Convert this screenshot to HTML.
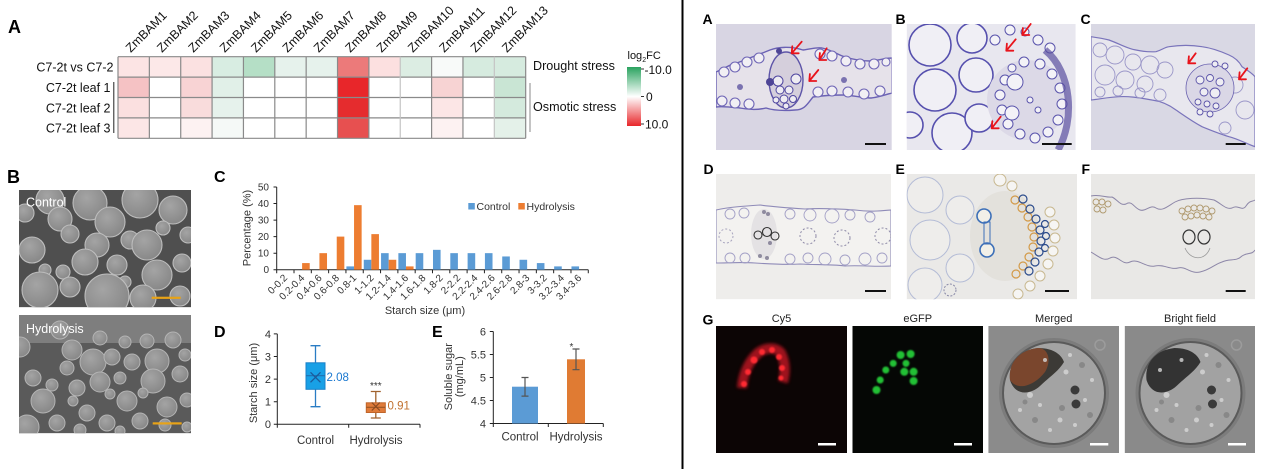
<!DOCTYPE html>
<html><head><meta charset="utf-8">
<style>
html,body{margin:0;padding:0;background:#fff;}
svg{display:block;font-family:"Liberation Sans",Arial,sans-serif;}
</style></head><body>
<svg width="1269" height="469" viewBox="0 0 1269 469" xmlns="http://www.w3.org/2000/svg">
<defs>
 <linearGradient id="lg" x1="0" y1="0" x2="0" y2="1">
  <stop offset="0" stop-color="#2aa35f"/>
  <stop offset="0.5" stop-color="#ffffff"/>
  <stop offset="1" stop-color="#e8262a"/>
 </linearGradient>
 <radialGradient id="gr" cx="0.4" cy="0.35" r="0.7">
  <stop offset="0" stop-color="#a4a4a4"/>
  <stop offset="1" stop-color="#868686"/>
 </radialGradient>
 <clipPath id="cB1"><rect x="19" y="190" width="172" height="117.3"/></clipPath>
 <clipPath id="cB2"><rect x="19" y="315" width="172" height="118.3"/></clipPath>
 <clipPath id="cA"><rect x="716" y="24" width="175.7" height="126"/></clipPath>
 <clipPath id="cBB"><rect x="906.7" y="24" width="169" height="126"/></clipPath>
 <clipPath id="cC"><rect x="1091" y="24" width="164" height="126"/></clipPath>
 <clipPath id="cD"><rect x="716" y="174" width="175" height="125.3"/></clipPath>
 <clipPath id="cE"><rect x="906.7" y="174" width="170.3" height="125.3"/></clipPath>
 <clipPath id="cF"><rect x="1091" y="174" width="164" height="125.3"/></clipPath>
 <clipPath id="cG3"><rect x="988.3" y="326" width="130.7" height="127"/></clipPath>
 <clipPath id="cG4"><rect x="1124.7" y="326" width="130.3" height="127"/></clipPath>
 <filter id="bl" x="-50%" y="-50%" width="200%" height="200%"><feGaussianBlur stdDeviation="1.6"/></filter>
 <filter id="bl2" x="-50%" y="-50%" width="200%" height="200%"><feGaussianBlur stdDeviation="0.8"/></filter>
</defs>

<!-- ============ PANEL A heatmap ============ -->
<text x="8" y="33" font-size="18" font-weight="bold" fill="#000">A</text>
<g>
 <rect x="118" y="56.7" width="31.36" height="20.4" fill="#fce4e4"/>
 <rect x="149.36" y="56.7" width="31.36" height="20.4" fill="#fce8e8"/>
 <rect x="180.72" y="56.7" width="31.36" height="20.4" fill="#fbe1e1"/>
 <rect x="212.08" y="56.7" width="31.36" height="20.4" fill="#d8ede2"/>
 <rect x="243.44" y="56.7" width="31.36" height="20.4" fill="#b5dfc6"/>
 <rect x="274.8" y="56.7" width="31.36" height="20.4" fill="#e6f2ec"/>
 <rect x="306.16" y="56.7" width="31.36" height="20.4" fill="#e6f2ec"/>
 <rect x="337.52" y="56.7" width="31.36" height="20.4" fill="#ec7a7a"/>
 <rect x="368.88" y="56.7" width="31.36" height="20.4" fill="#fce0e0"/>
 <rect x="400.24" y="56.7" width="31.36" height="20.4" fill="#dcede3"/>
 <rect x="431.6" y="56.7" width="31.36" height="20.4" fill="#f8faf9"/>
 <rect x="462.96" y="56.7" width="31.36" height="20.4" fill="#d6ebdf"/>
 <rect x="494.32" y="56.7" width="31.36" height="20.4" fill="#d6ebdf"/>
 <rect x="118" y="77.1" width="31.36" height="20.4" fill="#f5c2c4"/>
 <rect x="180.72" y="77.1" width="31.36" height="20.4" fill="#f8d3d4"/>
 <rect x="212.08" y="77.1" width="31.36" height="20.4" fill="#e1f0e8"/>
 <rect x="337.52" y="77.1" width="31.36" height="20.4" fill="#e8262a"/>
 <rect x="431.6" y="77.1" width="31.36" height="20.4" fill="#f7d3d3"/>
 <rect x="494.32" y="77.1" width="31.36" height="20.4" fill="#c9e5d4"/>
 <rect x="118" y="97.5" width="31.36" height="20.4" fill="#fbe0e0"/>
 <rect x="180.72" y="97.5" width="31.36" height="20.4" fill="#f9dcdc"/>
 <rect x="212.08" y="97.5" width="31.36" height="20.4" fill="#e6f2ec"/>
 <rect x="337.52" y="97.5" width="31.36" height="20.4" fill="#e52c2e"/>
 <rect x="431.6" y="97.5" width="31.36" height="20.4" fill="#fce6e6"/>
 <rect x="494.32" y="97.5" width="31.36" height="20.4" fill="#d4eadd"/>
 <rect x="118" y="117.9" width="31.36" height="20.4" fill="#fce6e6"/>
 <rect x="180.72" y="117.9" width="31.36" height="20.4" fill="#fdf2f2"/>
 <rect x="212.08" y="117.9" width="31.36" height="20.4" fill="#f5f9f7"/>
 <rect x="337.52" y="117.9" width="31.36" height="20.4" fill="#e75050"/>
 <rect x="431.6" y="117.9" width="31.36" height="20.4" fill="#fdf2f2"/>
 <rect x="494.32" y="117.9" width="31.36" height="20.4" fill="#e4f1e9"/>
</g>
<g stroke="#8a8a8a" stroke-width="1.2" fill="none">
 <path d="M118,56.7H525.7M118,77.1H525.7M118,97.5H525.7M118,117.9H525.7M118,138.3H525.7"/>
 <path d="M118,56.7V138.3M149.36,56.7V138.3M180.72,56.7V138.3M212.08,56.7V138.3M243.44,56.7V138.3M274.8,56.7V138.3M306.16,56.7V138.3M337.52,56.7V138.3M368.88,56.7V138.3M431.6,56.7V138.3M462.96,56.7V138.3M525.68,56.7V138.3"/>
</g>
<path d="M400.24,56.7V138.3M494.32,56.7V138.3" stroke="#c4c4c4" stroke-width="1.2"/>

<g font-size="12.5" fill="#111">
 <text transform="translate(130.7,53) rotate(-45)">ZmBAM1</text>
 <text transform="translate(162,53) rotate(-45)">ZmBAM2</text>
 <text transform="translate(193.4,53) rotate(-45)">ZmBAM3</text>
 <text transform="translate(224.8,53) rotate(-45)">ZmBAM4</text>
 <text transform="translate(256.1,53) rotate(-45)">ZmBAM5</text>
 <text transform="translate(287.5,53) rotate(-45)">ZmBAM6</text>
 <text transform="translate(318.8,53) rotate(-45)">ZmBAM7</text>
 <text transform="translate(350.2,53) rotate(-45)">ZmBAM8</text>
 <text transform="translate(381.6,53) rotate(-45)">ZmBAM9</text>
 <text transform="translate(412.9,53) rotate(-45)">ZmBAM10</text>
 <text transform="translate(444.3,53) rotate(-45)">ZmBAM11</text>
 <text transform="translate(475.6,53) rotate(-45)">ZmBAM12</text>
 <text transform="translate(507,53) rotate(-45)">ZmBAM13</text>
</g>
<g font-size="12.5" fill="#111" text-anchor="end">
 <text x="113.5" y="71.5">C7-2t vs C7-2</text>
 <text x="110.5" y="92">C7-2t leaf 1</text>
 <text x="110.5" y="112.5">C7-2t leaf 2</text>
 <text x="110.5" y="132.5">C7-2t leaf 3</text>
</g>
<path d="M113.8,82V133" stroke="#222" stroke-width="1"/>
<text x="533" y="70" font-size="12.6" fill="#111">Drought stress</text>
<text x="533" y="111" font-size="12.6" fill="#111">Osmotic stress</text>
<path d="M530,83V132" stroke="#888" stroke-width="1"/>
<text x="627.5" y="59" font-size="11" fill="#111">log<tspan font-size="7" dy="3">2</tspan><tspan dy="-3">FC</tspan></text>
<rect x="627" y="67" width="14" height="59" fill="url(#lg)"/>
<path d="M641,69h3M641,96.5h3M641,124h3" stroke="#333" stroke-width="1"/>
<g font-size="12" fill="#111">
 <text x="644.5" y="74">-10.0</text>
 <text x="646" y="101">0</text>
 <text x="645" y="128.5">10.0</text>
</g>

<!-- ============ PANEL B SEM ============ -->
<text x="7" y="183" font-size="18" font-weight="bold" fill="#000">B</text>
<g clip-path="url(#cB1)">
 <rect x="19" y="190" width="172" height="117.3" fill="#4f4f4f"/>
 <g fill="url(#gr)" stroke="#bdbdbd" stroke-width="1.1">
  <circle cx="50" cy="200" r="14"/><circle cx="90" cy="203" r="17"/><circle cx="140" cy="200" r="18"/>
  <circle cx="173" cy="210" r="14"/><circle cx="25" cy="213" r="9"/><circle cx="60" cy="219" r="12"/>
  <circle cx="110" cy="222" r="15"/><circle cx="188" cy="235" r="8"/><circle cx="163" cy="228" r="7"/>
  <circle cx="70" cy="234" r="9"/><circle cx="130" cy="240" r="9"/><circle cx="97" cy="245" r="12"/>
  <circle cx="147" cy="245" r="15"/><circle cx="32" cy="250" r="13"/><circle cx="182" cy="263" r="9"/>
  <circle cx="85" cy="262" r="13"/><circle cx="117" cy="265" r="10"/><circle cx="63" cy="272" r="7"/>
  <circle cx="45" cy="270" r="6"/><circle cx="157" cy="275" r="15"/><circle cx="125" cy="282" r="6"/>
  <circle cx="40" cy="290" r="18"/><circle cx="70" cy="287" r="10"/><circle cx="107" cy="296" r="22"/>
  <circle cx="143" cy="298" r="13"/><circle cx="180" cy="296" r="10"/>
 </g>
 <text x="26" y="206.5" font-size="12.5" fill="#fff">Control</text>
 <rect x="151.7" y="296.7" width="29" height="2.2" fill="#e8a317"/>
</g>
<g clip-path="url(#cB2)">
 <rect x="19" y="315" width="172" height="118.3" fill="#5a5a5a"/>
 <rect x="19" y="315" width="172" height="28" fill="#7e7e7e"/>
 <g fill="url(#gr)" stroke="#b4b4b4" stroke-width="1">
  <circle cx="60" cy="330" r="9"/><circle cx="100" cy="338" r="7"/><circle cx="125" cy="342" r="6"/>
  <circle cx="173" cy="340" r="8"/><circle cx="147" cy="341" r="7"/><circle cx="20" cy="347" r="10"/>
  <circle cx="72" cy="350" r="10"/><circle cx="93" cy="362" r="13"/><circle cx="112" cy="357" r="8"/>
  <circle cx="132" cy="362" r="8"/><circle cx="157" cy="361" r="12"/><circle cx="185" cy="355" r="6"/>
  <circle cx="67" cy="368" r="7"/><circle cx="180" cy="374" r="8"/><circle cx="33" cy="378" r="8"/>
  <circle cx="120" cy="378" r="6"/><circle cx="100" cy="382" r="10"/><circle cx="153" cy="381" r="12"/>
  <circle cx="52" cy="385" r="6"/><circle cx="77" cy="388" r="8"/><circle cx="143" cy="393" r="5"/>
  <circle cx="110" cy="394" r="5"/><circle cx="187" cy="400" r="7"/><circle cx="43" cy="401" r="12"/>
  <circle cx="73" cy="401" r="5"/><circle cx="127" cy="401" r="10"/><circle cx="167" cy="407" r="10"/>
  <circle cx="87" cy="413" r="8"/><circle cx="140" cy="421" r="8"/><circle cx="107" cy="423" r="8"/>
  <circle cx="57" cy="423" r="8"/><circle cx="27" cy="427" r="12"/><circle cx="187" cy="427" r="5"/>
  <circle cx="165" cy="425" r="6"/><circle cx="80" cy="430" r="6"/><circle cx="120" cy="431" r="5"/>
 </g>
 <text x="26" y="333" font-size="12.5" fill="#fff">Hydrolysis</text>
 <rect x="152.7" y="422.3" width="29" height="2.2" fill="#e8a317"/>
</g>

<!-- ============ PANEL C histogram ============ -->
<text x="214" y="182" font-size="16" font-weight="bold" fill="#000">C</text>
<g stroke="#222" stroke-width="1" fill="none">
 <path d="M276.7,187V269.7H588.3"/>
 <path d="M273.5,187h3.2M273.5,203.55h3.2M273.5,220.1h3.2M273.5,236.65h3.2M273.5,253.2h3.2M273.5,269.7h3.2"/>
 <path d="M276.7,269.7v3.5M294.01,269.7v3.5M311.32,269.7v3.5M328.63,269.7v3.5M345.94,269.7v3.5M363.25,269.7v3.5M380.56,269.7v3.5M397.87,269.7v3.5M415.18,269.7v3.5M432.49,269.7v3.5M449.8,269.7v3.5M467.11,269.7v3.5M484.42,269.7v3.5M501.73,269.7v3.5M519.04,269.7v3.5M536.35,269.7v3.5M553.66,269.7v3.5M570.97,269.7v3.5M588.28,269.7v3.5"/>
</g>
<g font-size="10" fill="#333" text-anchor="end">
 <text x="269" y="190.5">50</text><text x="269" y="207">40</text><text x="269" y="223.6">30</text>
 <text x="269" y="240.1">20</text><text x="269" y="256.7">10</text><text x="269" y="273.2">0</text>
</g>
<g fill="#5b9bd5">
 <rect x="346.4" y="266.4" width="7.6" height="3.31"/>
 <rect x="363.75" y="259.77" width="7.6" height="9.93"/>
 <rect x="381.06" y="253.15" width="7.6" height="16.55"/>
 <rect x="398.37" y="253.15" width="7.6" height="16.55"/>
 <rect x="415.68" y="253.15" width="7.6" height="16.55"/>
 <rect x="432.99" y="249.84" width="7.6" height="19.86"/>
 <rect x="450.3" y="253.15" width="7.6" height="16.55"/>
 <rect x="467.61" y="253.15" width="7.6" height="16.55"/>
 <rect x="484.92" y="253.15" width="7.6" height="16.55"/>
 <rect x="502.23" y="256.46" width="7.6" height="13.24"/>
 <rect x="519.54" y="259.77" width="7.6" height="9.93"/>
 <rect x="536.85" y="263.08" width="7.6" height="6.62"/>
 <rect x="554.16" y="266.4" width="7.6" height="3.31"/>
 <rect x="571.47" y="266.4" width="7.6" height="3.31"/>
</g>
<g fill="#ed7d31">
 <rect x="302.11" y="263.08" width="7.6" height="6.62"/>
 <rect x="319.42" y="253.15" width="7.6" height="16.55"/>
 <rect x="336.73" y="236.6" width="7.6" height="33.1"/>
 <rect x="354.04" y="205.15" width="7.6" height="64.55"/>
 <rect x="371.35" y="234.12" width="7.6" height="35.58"/>
 <rect x="388.66" y="259.77" width="7.6" height="9.93"/>
 <rect x="405.97" y="266.4" width="7.6" height="3.31"/>
</g>
<g font-size="10" fill="#333" text-anchor="end">
 <text transform="translate(287.9,278.5) rotate(-45)">0-0.2</text>
 <text transform="translate(305.2,278.5) rotate(-45)">0.2-0.4</text>
 <text transform="translate(322.5,278.5) rotate(-45)">0.4-0.6</text>
 <text transform="translate(339.8,278.5) rotate(-45)">0.6-0.8</text>
 <text transform="translate(357.1,278.5) rotate(-45)">0.8-1</text>
 <text transform="translate(374.4,278.5) rotate(-45)">1-1.2</text>
 <text transform="translate(391.7,278.5) rotate(-45)">1.2-1.4</text>
 <text transform="translate(409,278.5) rotate(-45)">1.4-1.6</text>
 <text transform="translate(426.3,278.5) rotate(-45)">1.6-1.8</text>
 <text transform="translate(443.6,278.5) rotate(-45)">1.8-2</text>
 <text transform="translate(461,278.5) rotate(-45)">2-2.2</text>
 <text transform="translate(478.3,278.5) rotate(-45)">2.2-2.4</text>
 <text transform="translate(495.6,278.5) rotate(-45)">2.4-2.6</text>
 <text transform="translate(512.9,278.5) rotate(-45)">2.6-2.8</text>
 <text transform="translate(530.2,278.5) rotate(-45)">2.8-3</text>
 <text transform="translate(547.5,278.5) rotate(-45)">3-3.2</text>
 <text transform="translate(564.8,278.5) rotate(-45)">3.2-3.4</text>
 <text transform="translate(582.1,278.5) rotate(-45)">3.4-3.6</text>
</g>
<text x="425" y="314" font-size="11" fill="#333" text-anchor="middle">Starch size (μm)</text>
<text transform="translate(250.5,228) rotate(-90)" font-size="11" fill="#333" text-anchor="middle">Percentage (%)</text>
<rect x="468.3" y="203" width="6.5" height="6.5" fill="#5b9bd5"/>
<text x="476.5" y="209.8" font-size="10.5" fill="#333">Control</text>
<rect x="518.3" y="203" width="6.5" height="6.5" fill="#ed7d31"/>
<text x="526.5" y="209.8" font-size="10.5" fill="#333">Hydrolysis</text>

<!-- ============ PANEL D boxplot ============ -->
<text x="214" y="337" font-size="16" font-weight="bold" fill="#000">D</text>
<g stroke="#222" stroke-width="1" fill="none">
 <path d="M277.3,333.9V424.3H420"/>
 <path d="M273.8,333.9h3.5M273.8,356.5h3.5M273.8,379.1h3.5M273.8,401.7h3.5M273.8,424.3h3.5"/>
 <path d="M277.3,424.3v3.5M348.7,424.3v3.5M420,424.3v3.5"/>
</g>
<g font-size="11" fill="#333" text-anchor="end">
 <text x="271" y="337.8">4</text><text x="271" y="360.4">3</text><text x="271" y="383">2</text>
 <text x="271" y="405.6">1</text><text x="271" y="428.2">0</text>
</g>
<path d="M315.5,345.7V406.7M310.5,345.7h10M310.5,406.7h10" stroke="#2a7cc4" stroke-width="1.3" fill="none"/>
<rect x="306" y="362.8" width="19" height="26.5" fill="#18a0e6" stroke="#1a80c8" stroke-width="1"/>
<path d="M306,375.7h19" stroke="#1e6fb0" stroke-width="1.2"/>
<path d="M310.5,372.3l10,10M310.5,382.3l10,-10" stroke="#1c5a9a" stroke-width="1.3"/>
<text x="326.5" y="381" font-size="11.5" fill="#1a78d0">2.08</text>
<path d="M375.8,391.5V418M370.8,391.5h10M370.8,418h10" stroke="#a0622e" stroke-width="1.3" fill="none"/>
<rect x="366.3" y="402.8" width="19" height="9.7" fill="#e07b39" stroke="#c0652a" stroke-width="1"/>
<path d="M366.3,407.3h19" stroke="#9a5524" stroke-width="1.1"/>
<path d="M371.8,402.5l8,8M371.8,410.5l8,-8" stroke="#8a4a20" stroke-width="1.2"/>
<text x="387.5" y="409.5" font-size="11.5" fill="#c0702e">0.91</text>
<text x="375.8" y="389" font-size="10" fill="#333" text-anchor="middle">***</text>
<text x="315.5" y="444" font-size="11.5" fill="#333" text-anchor="middle">Control</text>
<text x="376" y="444" font-size="11.5" fill="#333" text-anchor="middle">Hydrolysis</text>
<text transform="translate(257,383) rotate(-90)" font-size="11" fill="#333" text-anchor="middle">Starch size (μm)</text>

<!-- ============ PANEL E bars ============ -->
<text x="432" y="337" font-size="16" font-weight="bold" fill="#000">E</text>
<g stroke="#222" stroke-width="1" fill="none">
 <path d="M493.3,331.5V423.5H603.3"/>
 <path d="M489.8,331.5h3.5M489.8,354.5h3.5M489.8,377.5h3.5M489.8,400.5h3.5M489.8,423.5h3.5"/>
 <path d="M493.3,423.5v3.5M548.3,423.5v3.5M603.3,423.5v3.5"/>
</g>
<g font-size="11" fill="#333" text-anchor="end">
 <text x="486" y="335.4">6</text><text x="486" y="358.4">5.5</text><text x="486" y="381.4">5</text>
 <text x="486" y="404.4">4.5</text><text x="486" y="427.4">4</text>
</g>
<rect x="512" y="386.7" width="26" height="36.8" fill="#5b9bd5"/>
<rect x="567" y="359.3" width="18" height="64.2" fill="#e07b33"/>
<path d="M525,377.5V396.1M521.5,377.5h7M521.5,396.1h7" stroke="#555" stroke-width="1.2" fill="none"/>
<path d="M576,349V369.7M572.5,349h7M572.5,369.7h7" stroke="#555" stroke-width="1.2" fill="none"/>
<text x="571.5" y="350" font-size="10" fill="#333" text-anchor="middle">*</text>
<text x="520" y="440.5" font-size="11.5" fill="#333" text-anchor="middle">Control</text>
<text x="576" y="440.5" font-size="11.5" fill="#333" text-anchor="middle">Hydrolysis</text>
<text transform="translate(452,376.7) rotate(-90)" font-size="11" fill="#333" text-anchor="middle">Soluble sugar</text>
<text transform="translate(463,376.7) rotate(-90)" font-size="11" fill="#333" text-anchor="middle">(mg/mL)</text>

<!-- divider -->
<rect x="681.5" y="0" width="2" height="469" fill="#000"/>

<!-- ============ RIGHT: labels ============ -->
<g font-size="14" font-weight="bold" fill="#000">
 <text x="702.5" y="24">A</text><text x="895.5" y="24">B</text><text x="1080.5" y="24">C</text>
 <text x="703.5" y="174">D</text><text x="895.5" y="174">E</text><text x="1081.5" y="174">F</text>
 <text x="702.5" y="324.5">G</text>
</g>

<!-- A image -->
<g clip-path="url(#cA)">
 <rect x="716" y="24" width="176" height="126" fill="#d8d5e3"/>
 <path d="M716,72 C726,68 730,64 737,63 C750,58 760,54 770,50 C778,47 790,46 803,50 C812,49 816,47 822,48 C832,50 838,55 845,57 C855,60 862,61 870,61 C880,60 886,58 892,58 L892,93 C884,95 876,98 870,98 C858,97 850,95 843,95 C832,95 820,96 813,97 C808,103 805,110 795,110 C782,111 772,110 766,108 C758,110 750,110 740,108 C730,107 722,106 716,107 Z" fill="#e6e2ea" stroke="#6b62b4" stroke-width="1.4"/>
 <g fill="#f1eff4" stroke="#6f66b6" stroke-width="1.1">
  <circle cx="724" cy="72" r="5"/><circle cx="735" cy="67" r="5"/><circle cx="747" cy="62" r="5"/><circle cx="759" cy="58" r="5"/>
  <circle cx="820" cy="54" r="5"/><circle cx="832" cy="56" r="5"/><circle cx="846" cy="61" r="5"/><circle cx="860" cy="64" r="5"/><circle cx="874" cy="64" r="5"/><circle cx="886" cy="62" r="4"/>
  <circle cx="722" cy="101" r="5"/><circle cx="735" cy="103" r="5"/><circle cx="749" cy="104" r="5"/><circle cx="818" cy="92" r="5"/><circle cx="832" cy="91" r="5"/><circle cx="848" cy="92" r="5"/><circle cx="864" cy="94" r="5"/><circle cx="880" cy="91" r="5"/>
 </g>
 <ellipse cx="786" cy="80" rx="17" ry="28" fill="#d5cfdc" stroke="#5e55a8" stroke-width="1.4"/>
 <g fill="#eeecf2" stroke="#4f46a0" stroke-width="1">
  <circle cx="780" cy="90" r="4"/><circle cx="789" cy="90" r="4"/><circle cx="784" cy="99" r="4"/><circle cx="793" cy="99" r="3.5"/>
  <circle cx="778" cy="81" r="5"/><circle cx="796" cy="79" r="5"/><circle cx="776" cy="100" r="3"/><circle cx="786" cy="106" r="3"/>
 </g>
 <circle cx="770" cy="82" r="4" fill="#4e4596"/><circle cx="779" cy="51" r="3" fill="#4e4596"/>
 <circle cx="740" cy="87" r="3" fill="#7a72b0"/><circle cx="844" cy="80" r="3" fill="#7a72b0"/>
 <rect x="865" y="143" width="21" height="2" fill="#111"/>
</g>
<!-- B image -->
<g clip-path="url(#cBB)">
 <rect x="906.7" y="24" width="169" height="126" fill="#e8e7ef"/>
 <g fill="#f0eff5" stroke="#5650ae" stroke-width="1.6">
  <circle cx="930" cy="45" r="21"/><circle cx="935" cy="90" r="21"/><circle cx="952" cy="133" r="20"/>
  <circle cx="972" cy="38" r="15"/><circle cx="976" cy="75" r="17"/><circle cx="979" cy="118" r="14"/>
  <circle cx="910" cy="125" r="13"/>
 </g>
 <circle cx="1027" cy="100" r="40" fill="#dcd9e7"/>
 <g fill="#f3f2f7" stroke="#5a54ac" stroke-width="1">
  <circle cx="1005" cy="80" r="5"/><circle cx="1000" cy="95" r="5"/><circle cx="1002" cy="110" r="5"/><circle cx="1008" cy="124" r="5"/>
  <circle cx="1020" cy="134" r="5"/><circle cx="1035" cy="138" r="5"/><circle cx="1048" cy="132" r="5"/><circle cx="1058" cy="120" r="5"/>
  <circle cx="1062" cy="104" r="5"/><circle cx="1060" cy="88" r="5"/><circle cx="1052" cy="74" r="5"/><circle cx="1040" cy="64" r="5"/>
  <circle cx="1024" cy="62" r="5"/><circle cx="1012" cy="68" r="4"/><circle cx="1050" cy="48" r="5"/><circle cx="1038" cy="40" r="5"/>
  <circle cx="1015" cy="82" r="8"/><circle cx="1012" cy="113" r="7"/><circle cx="1030" cy="100" r="3"/><circle cx="1038" cy="110" r="3"/>
  <circle cx="995" cy="40" r="5"/><circle cx="1010" cy="30" r="5"/><circle cx="1025" cy="32" r="4"/>
 </g>
 <path d="M1045,50 C1072,72 1075,120 1058,150" stroke="#5a4f9f" stroke-width="7" fill="none" opacity="0.7"/>
 <rect x="1042" y="143" width="29.7" height="2" fill="#111"/>
</g>
<!-- C image -->
<g clip-path="url(#cC)">
 <rect x="1091" y="24" width="164" height="126" fill="#d9d8e4"/>
 <path d="M1091,36.7 C1100,38 1105,39 1109,40 C1120,44 1128,49 1136,50 C1145,52 1150,52 1156,51.7 C1162,50 1165,47 1169,46.7 C1180,45 1192,45 1202,46.7 C1212,48 1220,51 1229,55 C1236,58 1240,63 1242,66.7 C1247,70 1252,73 1255,76.7 L1255,146.7 C1245,143 1238,139 1229,136.7 C1220,134 1210,130 1202,126.7 C1190,120 1182,114 1176,110 C1168,104 1160,101 1152,100 C1140,98 1130,96 1119,96.7 C1110,97 1100,99 1091,100 Z" fill="#e8e7ee" stroke="#7a74bb" stroke-width="1.2"/>
 <g fill="none" stroke="#9a96c8" stroke-width="0.9">
  <circle cx="1100" cy="50" r="7"/><circle cx="1115" cy="55" r="9"/><circle cx="1133" cy="62" r="8"/><circle cx="1150" cy="65" r="9"/>
  <circle cx="1105" cy="75" r="10"/><circle cx="1125" cy="80" r="9"/><circle cx="1145" cy="84" r="8"/><circle cx="1165" cy="70" r="8"/>
  <circle cx="1100" cy="92" r="5"/><circle cx="1118" cy="91" r="5"/><circle cx="1140" cy="93" r="5"/><circle cx="1160" cy="95" r="6"/>
  <circle cx="1235" cy="85" r="8"/><circle cx="1245" cy="110" r="9"/><circle cx="1225" cy="128" r="6"/>
 </g>
 <circle cx="1210" cy="88" r="24" fill="#dad7e6" stroke="#6a62b0" stroke-width="0.8"/>
 <g fill="#eeedf3" stroke="#5a52a8" stroke-width="0.9">
  <circle cx="1200" cy="80" r="4"/><circle cx="1210" cy="78" r="3.5"/><circle cx="1220" cy="82" r="4"/><circle cx="1204" cy="92" r="4"/>
  <circle cx="1215" cy="93" r="5"/><circle cx="1198" cy="102" r="3"/><circle cx="1207" cy="104" r="3"/><circle cx="1216" cy="106" r="3"/>
  <circle cx="1200" cy="112" r="3"/><circle cx="1210" cy="114" r="3"/><circle cx="1225" cy="66" r="3"/><circle cx="1215" cy="64" r="3"/>
 </g>
 <rect x="1225.7" y="143" width="20" height="2" fill="#111"/>
</g>
<!-- red arrows -->
<g stroke="#e8141c" stroke-width="1.8" fill="none" stroke-linecap="round" stroke-linejoin="round">
 <path d="M801.7,41.7L791.7,53.3M791.7,53.3h7M791.7,53.3l0.6,-7"/>
 <path d="M826.7,48.3L819.3,60M819.3,60h7M819.3,60l0.6,-7"/>
 <path d="M818.3,70L809.3,81M809.3,81h7M809.3,81l0.6,-7"/>
 <path d="M1030.7,24L1022.3,35M1022.3,35h7M1022.3,35l0.6,-7"/>
 <path d="M1015.7,39.3L1006.3,50.7M1006.3,50.7h7M1006.3,50.7l0.6,-7"/>
 <path d="M1000.7,116.7L991.7,128.3M991.7,128.3h7M991.7,128.3l0.6,-7"/>
 <path d="M1195.7,53.3L1188.3,63.3M1188.3,63.3h7M1188.3,63.3l0.6,-7"/>
 <path d="M1247.3,68.3L1239,79.3M1239,79.3h7M1239,79.3l0.6,-7"/>
</g>

<!-- D image -->
<g clip-path="url(#cD)">
 <rect x="716" y="174" width="175" height="125.3" fill="#eeedeb"/>
 <path d="M716,210 C730,207 745,206 760,205 C775,207 790,208 805,209 C820,208 840,209 855,210 C870,212 880,211 891,210 L891,266 C875,267 860,265 845,266 C830,264 815,265 800,264 C785,265 770,264 755,263 C740,262 728,263 716,263 Z" fill="#f3f2f0" stroke="#8f8bb8" stroke-width="1.1"/>
 <g fill="none" stroke="#a3a0c6" stroke-width="0.9">
  <circle cx="730" cy="214" r="5"/><circle cx="744" cy="213" r="5"/><circle cx="790" cy="214" r="5"/><circle cx="810" cy="215" r="6"/><circle cx="832" cy="216" r="7"/><circle cx="850" cy="215" r="5"/><circle cx="870" cy="217" r="5"/>
  <circle cx="730" cy="258" r="5"/><circle cx="745" cy="258" r="5"/><circle cx="790" cy="259" r="5"/><circle cx="808" cy="258" r="5"/><circle cx="825" cy="259" r="6"/><circle cx="845" cy="260" r="5"/><circle cx="865" cy="259" r="6"/><circle cx="882" cy="258" r="5"/>
 </g>
 <ellipse cx="764" cy="234" rx="13" ry="25" fill="#e4e2e4"/>
 <g fill="none" stroke="#333" stroke-width="1.1">
  <circle cx="758" cy="235" r="4"/><circle cx="767" cy="232" r="4.5"/><circle cx="775" cy="236" r="4"/>
 </g>
 <g fill="#6a6680" opacity="0.7">
  <circle cx="764" cy="212" r="2"/><circle cx="768" cy="214" r="2"/><circle cx="760" cy="256" r="2"/><circle cx="767" cy="258" r="2"/><circle cx="770" cy="243" r="2"/>
 </g>
 <circle cx="808" cy="236" r="8" fill="none" stroke="#8f8ba8" stroke-width="1" stroke-dasharray="2 2"/>
 <circle cx="842" cy="238" r="8" fill="none" stroke="#8f8ba8" stroke-width="1" stroke-dasharray="2 2"/>
 <circle cx="883" cy="236" r="8" fill="none" stroke="#8f8ba8" stroke-width="1" stroke-dasharray="2 2"/>
 <circle cx="726" cy="236" r="7" fill="none" stroke="#a8a5be" stroke-width="1" stroke-dasharray="2 2"/>
 <rect x="865" y="290" width="21" height="2" fill="#111"/>
</g>
<!-- E image -->
<g clip-path="url(#cE)">
 <rect x="906.7" y="174" width="170.3" height="125.3" fill="#eae9e7"/>
 <g fill="#eeedeb" stroke="#b4bcd6" stroke-width="1">
  <circle cx="925" cy="195" r="18"/><circle cx="930" cy="240" r="20"/><circle cx="925" cy="285" r="17"/><circle cx="960" cy="210" r="14"/><circle cx="960" cy="268" r="14"/>
 </g>
 <ellipse cx="1005" cy="236" rx="35" ry="45" fill="#e3e1dc"/>
 <g fill="none" stroke="#d39a48" stroke-width="1.2">
  <circle cx="1015" cy="200" r="4"/><circle cx="1022" cy="208" r="4"/><circle cx="1028" cy="217" r="4"/><circle cx="1032" cy="227" r="4"/><circle cx="1034" cy="237" r="4"/><circle cx="1033" cy="247" r="4"/><circle cx="1029" cy="257" r="4"/><circle cx="1023" cy="266" r="4"/><circle cx="1016" cy="274" r="4"/>
 </g>
 <g fill="none" stroke="#2c4c8c" stroke-width="1.2">
  <circle cx="1023" cy="199" r="4"/><circle cx="1030" cy="209" r="4"/><circle cx="1036" cy="219" r="4"/><circle cx="1040" cy="230" r="4"/><circle cx="1041" cy="241" r="4"/><circle cx="1039" cy="252" r="4"/><circle cx="1035" cy="262" r="4"/><circle cx="1029" cy="271" r="4"/>
  <circle cx="1045" cy="224" r="3.5"/><circle cx="1046" cy="236" r="3.5"/><circle cx="1045" cy="248" r="3.5"/>
 </g>
 <g fill="#f6f5f3" stroke="#c8b890" stroke-width="1">
  <circle cx="1000" cy="180" r="6"/><circle cx="1012" cy="186" r="5"/><circle cx="1050" cy="212" r="5"/><circle cx="1054" cy="225" r="5"/><circle cx="1055" cy="238" r="5"/><circle cx="1053" cy="251" r="5"/><circle cx="1048" cy="264" r="5"/><circle cx="1040" cy="276" r="5"/><circle cx="1030" cy="286" r="5"/><circle cx="1018" cy="294" r="5"/>
 </g>
 <circle cx="984" cy="216" r="7" fill="#f2f0e8" stroke="#3c6fb8" stroke-width="1.6"/>
 <circle cx="987" cy="250" r="7" fill="#f2f0e8" stroke="#3c6fb8" stroke-width="1.6"/>
 <rect x="984" y="222" width="6" height="22" fill="none" stroke="#3c6fb8" stroke-width="1"/>
 <circle cx="950" cy="290" r="6" fill="none" stroke="#8a8aa8" stroke-width="1" stroke-dasharray="2 1.5"/>
 <rect x="1045" y="290" width="24" height="2" fill="#111"/>
</g>
<!-- F image -->
<g clip-path="url(#cF)">
 <rect x="1091" y="174" width="164" height="125.3" fill="#e9e8e6"/>
 <path d="M1091,196 C1100,194 1106,198 1112,197 C1118,200 1120,206 1126,204 C1132,200 1134,208 1140,210 C1146,212 1150,204 1156,208 C1162,212 1168,206 1175,202 C1182,198 1200,197 1214,200 C1222,204 1226,210 1232,208 C1238,204 1242,212 1246,206 C1250,200 1252,202 1255,200" fill="none" stroke="#8d87a8" stroke-width="1"/>
 <path d="M1091,252 C1098,256 1104,262 1110,258 C1118,254 1122,266 1130,262 C1138,258 1146,268 1155,266 C1164,264 1170,270 1178,268 C1186,266 1190,274 1200,272 C1210,270 1215,264 1222,262 C1230,258 1236,262 1242,256 C1248,252 1252,255 1255,250" fill="none" stroke="#8d87a8" stroke-width="1"/>
 <g fill="none" stroke="#b09a70" stroke-width="0.9">
  <circle cx="1182" cy="211" r="3"/><circle cx="1188" cy="209" r="3"/><circle cx="1194" cy="208" r="3"/><circle cx="1200" cy="208" r="3"/><circle cx="1206" cy="209" r="3"/><circle cx="1212" cy="211" r="3"/>
  <circle cx="1185" cy="217" r="3"/><circle cx="1191" cy="216" r="3"/><circle cx="1197" cy="215" r="3"/><circle cx="1203" cy="216" r="3"/><circle cx="1209" cy="217" r="3"/>
  <circle cx="1096" cy="202" r="3"/><circle cx="1102" cy="202" r="3"/><circle cx="1108" cy="204" r="3"/><circle cx="1097" cy="209" r="3"/><circle cx="1103" cy="210" r="3"/>
 </g>
 <ellipse cx="1189" cy="237" rx="6" ry="7" fill="none" stroke="#333" stroke-width="1.2"/>
 <ellipse cx="1204" cy="237" rx="6" ry="7" fill="none" stroke="#333" stroke-width="1.2"/>
 <path d="M1185,248 C1190,260 1205,262 1210,248" fill="none" stroke="#999" stroke-width="0.8"/>
 <rect x="1225.7" y="290" width="20" height="2" fill="#111"/>
</g>

<!-- ============ G ============ -->
<g font-size="11" fill="#222" text-anchor="middle">
 <text x="781.5" y="322">Cy5</text><text x="917.7" y="322">eGFP</text><text x="1053.7" y="322">Merged</text><text x="1190" y="322">Bright field</text>
</g>
<rect x="716" y="326" width="131" height="127" fill="#0c0505"/>
<path d="M742,388 C743,375 748,362 758,353 C766,347 776,347 781,353 C785,361 786,371 783,382" stroke="#b81822" stroke-width="10" fill="none" opacity="0.85" filter="url(#bl)"/>
<g fill="#ff2a32" filter="url(#bl2)">
 <circle cx="744" cy="384" r="3"/><circle cx="748" cy="372" r="3"/><circle cx="754" cy="360" r="3.5"/><circle cx="762" cy="352" r="3"/><circle cx="772" cy="350" r="3"/><circle cx="779" cy="357" r="3"/><circle cx="782" cy="368" r="3"/><circle cx="781" cy="378" r="2.5"/>
</g>
<rect x="818" y="443" width="18" height="2.5" fill="#fff"/>
<rect x="852.5" y="326" width="130.5" height="127" fill="#050705"/>
<g fill="#20c034" filter="url(#bl2)">
 <circle cx="876.5" cy="390" r="4"/><circle cx="880.2" cy="380" r="3.5"/><circle cx="885.8" cy="370" r="3.5"/><circle cx="893.2" cy="363.4" r="3.5"/>
 <circle cx="900.6" cy="355" r="4"/><circle cx="910.6" cy="354" r="4"/><circle cx="906" cy="363.4" r="3.5"/><circle cx="904.3" cy="371.8" r="4"/>
 <circle cx="913.6" cy="371.8" r="4"/><circle cx="913.6" cy="381" r="4"/>
</g>
<rect x="954" y="443" width="18" height="2.5" fill="#fff"/>
<!-- Merged -->
<g clip-path="url(#cG3)">
 <rect x="988.3" y="326" width="130.7" height="127" fill="#8b8b8b"/>
 <circle cx="1054" cy="393" r="55" fill="#7c7c7c"/>
 <circle cx="1054" cy="393" r="51" fill="#a3a3a3" stroke="#5a5a5a" stroke-width="2"/>
 <path d="M1010,380 C1008,362 1020,350 1038,348 C1055,348 1062,356 1064,362 C1058,372 1048,378 1040,386 C1030,395 1015,396 1010,380 Z" fill="#3c3a36"/>
 <path d="M1010,380 C1008,362 1020,350 1038,348 C1048,348 1052,360 1045,372 C1035,385 1018,392 1010,380 Z" fill="#8a4a2c" opacity="0.8"/>
 <g fill="#d8d8d8" opacity="0.8">
  <circle cx="1030" cy="395" r="3"/><circle cx="1045" cy="360" r="2"/><circle cx="1066" cy="372" r="2.5"/><circle cx="1020" cy="410" r="2"/><circle cx="1060" cy="420" r="2.5"/><circle cx="1085" cy="400" r="2"/>
  <circle cx="1040" cy="405" r="2"/><circle cx="1050" cy="430" r="2"/><circle cx="1075" cy="425" r="2"/><circle cx="1092" cy="380" r="2"/><circle cx="1070" cy="355" r="2"/>
 </g>
 <g fill="#777" opacity="0.6">
  <circle cx="1035" cy="420" r="3"/><circle cx="1062" cy="408" r="3"/><circle cx="1090" cy="415" r="3"/><circle cx="1082" cy="365" r="3"/><circle cx="1025" cy="402" r="2.5"/>
 </g>
 <circle cx="1075" cy="390" r="4.5" fill="#3a3a3a"/><circle cx="1076" cy="404" r="4.5" fill="#3a3a3a"/>
 <circle cx="1100" cy="345" r="5" fill="none" stroke="#9c9c9c" stroke-width="1.5"/>
 <rect x="1090" y="443" width="18.3" height="2.5" fill="#fff"/>
</g>
<!-- Bright field -->
<g clip-path="url(#cG4)">
 <rect x="1124.7" y="326" width="130.3" height="127" fill="#8a8a8a"/>
 <circle cx="1190.5" cy="393" r="55" fill="#7c7c7c"/>
 <circle cx="1190.5" cy="393" r="51" fill="#a2a2a2" stroke="#5a5a5a" stroke-width="2"/>
 <path d="M1146.5,380 C1144.5,362 1156.5,350 1174.5,348 C1191.5,348 1198.5,356 1200.5,362 C1194.5,372 1184.5,378 1176.5,386 C1166.5,395 1151.5,396 1146.5,380 Z" fill="#333333"/>
 <g fill="#d8d8d8" opacity="0.8">
  <circle cx="1166.5" cy="395" r="3"/><circle cx="1181.5" cy="360" r="2"/><circle cx="1160" cy="370" r="2"/><circle cx="1202.5" cy="372" r="2.5"/><circle cx="1156.5" cy="410" r="2"/><circle cx="1196.5" cy="420" r="2.5"/><circle cx="1221.5" cy="400" r="2"/>
  <circle cx="1176.5" cy="405" r="2"/><circle cx="1186.5" cy="430" r="2"/><circle cx="1211.5" cy="425" r="2"/><circle cx="1228.5" cy="380" r="2"/><circle cx="1206.5" cy="355" r="2"/>
 </g>
 <g fill="#777" opacity="0.6">
  <circle cx="1171.5" cy="420" r="3"/><circle cx="1198.5" cy="408" r="3"/><circle cx="1226.5" cy="415" r="3"/><circle cx="1218.5" cy="365" r="3"/><circle cx="1161.5" cy="402" r="2.5"/>
 </g>
 <circle cx="1211.5" cy="390" r="4.5" fill="#3a3a3a"/><circle cx="1212.5" cy="404" r="4.5" fill="#3a3a3a"/>
 <circle cx="1236.5" cy="345" r="5" fill="none" stroke="#9c9c9c" stroke-width="1.5"/>
 <rect x="1228" y="443" width="18" height="2.5" fill="#fff"/>
</g>
</svg>
</body></html>
